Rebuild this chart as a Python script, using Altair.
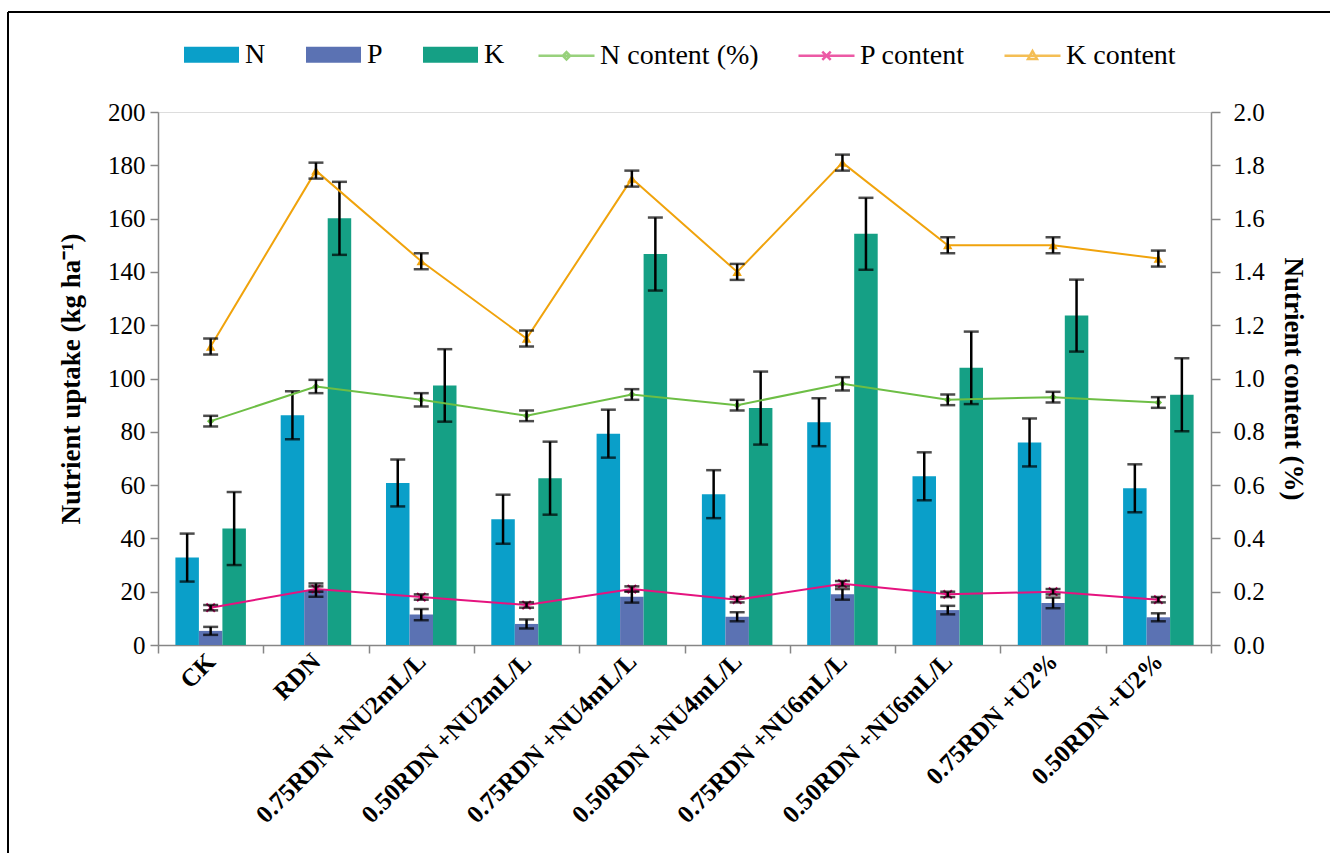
import altair as alt
import pandas as pd

FONT = "Liberation Serif"
GRAY = "#868686"

categories = ["CK", "RDN", "0.75RDN +NU2mL/L", "0.50RDN +NU2mL/L",
              "0.75RDN +NU4mL/L", "0.50RDN +NU4mL/L", "0.75RDN +NU6mL/L",
              "0.50RDN +NU6mL/L", "0.75RDN +U2%", "0.50RDN +U2%"]
nutrients = ["N", "P", "K"]

n_uptake = [32.8, 86.2, 60.8, 47.2, 79.3, 56.6, 83.6, 63.3, 76.0, 58.8]
n_err = [9.0, 9.0, 8.8, 9.2, 9.0, 9.0, 9.0, 9.0, 9.0, 9.0]
p_uptake = [5.3, 20.6, 11.4, 7.9, 18.1, 10.6, 19.0, 13.1, 15.8, 10.4]
p_err = [1.5, 2.5, 2.1, 1.7, 2.2, 1.7, 2.0, 1.6, 2.0, 1.5]
k_uptake = [43.7, 160.1, 97.4, 62.6, 146.7, 88.9, 154.3, 104.0, 123.6, 93.9]
k_err = [13.7, 13.7, 13.6, 13.7, 13.7, 13.7, 13.5, 13.6, 13.5, 13.7]

content_series = ["N content (%)", "P content", "K content"]
n_content = [0.84, 0.97, 0.92, 0.86, 0.94, 0.90, 0.98, 0.92, 0.93, 0.91]
n_content_err = [0.02, 0.025, 0.025, 0.02, 0.02, 0.02, 0.025, 0.02, 0.02, 0.02]
p_content = [0.14, 0.21, 0.18, 0.15, 0.21, 0.17, 0.23, 0.19, 0.20, 0.17]
p_content_err = [0.01, 0.01, 0.01, 0.01, 0.01, 0.01, 0.01, 0.01, 0.01, 0.01]
k_content = [1.12, 1.78, 1.44, 1.15, 1.75, 1.40, 1.81, 1.50, 1.50, 1.45]
k_content_err = [0.03, 0.03, 0.03, 0.03, 0.03, 0.03, 0.03, 0.03, 0.03, 0.03]

left_ticks = [0, 20, 40, 60, 80, 100, 120, 140, 160, 180, 200]
right_ticks = [0.0, 0.2, 0.4, 0.6, 0.8, 1.0, 1.2, 1.4, 1.6, 1.8, 2.0]

bar_colors = ["#0A9FC9", "#5B72B3", "#15A085"]
content_colors = ["#6DBE45", "#E5137F", "#F0A30C"]
marker_shapes = ["diamond", "M-1,-1L1,1M-1,1L1,-1", "triangle-up"]
marker_filled = [True, False, True]
marker_sizes = [55, 70, 90]
legend_paths = [
    "M-1,0H1M0,-0.13L0.13,0L0,0.13L-0.13,0Z",
    "M-1,0H1M-0.15,-0.15L0.15,0.15M-0.15,0.15L0.15,-0.15",
    "M-1,0H1M0,-0.17L0.16,0.12L-0.16,0.12Z",
]

rows = []
for nut, vals, errs in zip(nutrients, [n_uptake, p_uptake, k_uptake], [n_err, p_err, k_err]):
    for c, v, e in zip(categories, vals, errs):
        rows.append(dict(category=c, nutrient=nut, value=v, lo=v - e, hi=v + e))
bars_df = pd.DataFrame(rows)

rows = []
for s, vals, errs in zip(content_series, [n_content, p_content, k_content],
                         [n_content_err, p_content_err, k_content_err]):
    for c, v, e in zip(categories, vals, errs):
        rows.append(dict(category=c, series=s, value=v, lo=v - e, hi=v + e))
lines_df = pd.DataFrame(rows)

x_axis = alt.Axis(labelAngle=315, labelAlign="right", labelBaseline="middle",
                  labelFont=FONT, labelFontSize=25, labelFontWeight="bold",
                  labelColor="black", tickBand="extent", tickSize=8,
                  tickColor=GRAY, tickWidth=1.5, domainColor=GRAY, domainWidth=1.5,
                  labelPadding=4, labelLimit=400, title=None)
x_enc = alt.X("category:N", sort=categories, title=None,
              scale=alt.Scale(domain=categories, paddingInner=0, paddingOuter=0),
              axis=x_axis)
xoff = alt.XOffset("nutrient:N", sort=nutrients,
                   scale=alt.Scale(domain=nutrients, paddingOuter=0.74, paddingInner=0))

left_axis = alt.Axis(values=left_ticks, format="d", title="Nutrient  uptake  (kg ha⁻¹)",
                     titleFont=FONT, titleFontSize=27, titleFontWeight="bold",
                     titleColor="black", titlePadding=22,
                     labelFont=FONT, labelFontSize=25, labelColor="black",
                     labelPadding=5, tickSize=8, tickColor=GRAY, tickWidth=1.5,
                     domainColor=GRAY, domainWidth=1.5, grid=False)
right_axis = alt.Axis(values=right_ticks, format=".1f", orient="right",
                      title="Nutrient content (%)",
                      titleFont=FONT, titleFontSize=27, titleFontWeight="bold",
                      titleColor="black", titlePadding=14,
                      labelFont=FONT, labelFontSize=25, labelColor="black",
                      labelPadding=13, tickSize=9, tickColor=GRAY, tickWidth=1.5,
                      domainColor=GRAY, domainWidth=1.5, grid=False)
left_scale = alt.Scale(domain=[0, 200], nice=False, zero=True)
right_scale = alt.Scale(domain=[0, 2], nice=False, zero=True)


def yl(field):
    return alt.Y(field, scale=left_scale, axis=left_axis, title="Nutrient  uptake  (kg ha⁻¹)")


def yr(field):
    return alt.Y(field, scale=right_scale, axis=right_axis, title="Nutrient content (%)")


bar_legend = alt.Legend(orient="none", legendX=26, legendY=-85, direction="horizontal",
                        title=None, symbolType="M-1,-0.29H1V0.29H-1Z", symbolSize=3025,
                        symbolStrokeWidth=0, labelFont=FONT, labelFontSize=28,
                        labelColor="black", labelOffset=6, columnPadding=40, padding=0)

bars = alt.Chart(bars_df).mark_bar(width=alt.RelativeBandSize(1.0)).encode(
    x=x_enc, xOffset=xoff, y=yl("value:Q"),
    color=alt.Color("nutrient:N", scale=alt.Scale(domain=nutrients, range=bar_colors),
                    legend=bar_legend),
)
bar_rules = alt.Chart(bars_df).mark_rule(color="black", strokeWidth=2.5).encode(
    x=x_enc, xOffset=xoff, y=yl("lo:Q"), y2="hi:Q")
bar_caps = alt.Chart(bars_df).transform_fold(["lo", "hi"], as_=["end", "cap"]).mark_tick(
    color="black", thickness=2.5, size=15).encode(x=x_enc, xOffset=xoff, y=yl("cap:Q"))

left = alt.layer(bars, bar_rules, bar_caps)

right_layers = []
for s, col, shp, fil, sz in zip(content_series, content_colors, marker_shapes,
                                marker_filled, marker_sizes):
    base = alt.Chart(lines_df).transform_filter(alt.datum.series == s)
    right_layers.append(base.mark_line(color=col, strokeWidth=2).encode(x=x_enc, y=yr("value:Q")))
    right_layers.append(base.mark_point(shape=shp, filled=fil, color=col, size=sz,
                                        strokeWidth=2, opacity=1).encode(x=x_enc, y=yr("value:Q")))

line_rules = alt.Chart(lines_df).mark_rule(color="black", strokeWidth=2.5).encode(
    x=x_enc, y=yr("lo:Q"), y2="hi:Q")
line_caps = alt.Chart(lines_df).transform_fold(["lo", "hi"], as_=["end", "cap"]).mark_tick(
    color="black", thickness=2.5, size=15).encode(x=x_enc, y=yr("cap:Q"))

line_legend = alt.Legend(orient="none", legendX=379, legendY=-86, direction="horizontal",
                         title=None, symbolSize=3136, symbolStrokeWidth=2.5,
                         labelFont=FONT, labelFontSize=28, labelColor="black",
                         labelOffset=4, columnPadding=34, padding=0)
legend_layer = alt.Chart(lines_df).transform_filter("datum.value < 0").mark_point(
    filled=False, strokeWidth=2.5).encode(
    x=x_enc, y=yr("value:Q"),
    stroke=alt.Stroke("series:N", scale=alt.Scale(domain=content_series, range=content_colors),
                      legend=line_legend),
    shape=alt.Shape("series:N", scale=alt.Scale(domain=content_series, range=legend_paths),
                    legend=line_legend),
)

right = alt.layer(*right_layers, line_rules, line_caps, legend_layer)

frame = alt.Chart(pd.DataFrame({"k": [0]})).mark_rule(color="black", strokeWidth=2).encode(
    x=alt.value(-150), y=alt.value(-100), y2=alt.value(760))
frame_top = alt.Chart(pd.DataFrame({"k": [0]})).mark_rule(color="black", strokeWidth=2).encode(
    x=alt.value(-150), x2=alt.value(1172), y=alt.value(-100))

chart = alt.layer(left, right, frame, frame_top).resolve_scale(
    y="independent", color="independent"
).properties(
    width=1053, height=533, autosize="none",
    padding={"left": 158, "top": 112, "right": 128, "bottom": 208},
).configure_view(stroke=None).configure(font=FONT)

chart.save("out.html", embed_options={"renderer": "svg", "actions": False})
